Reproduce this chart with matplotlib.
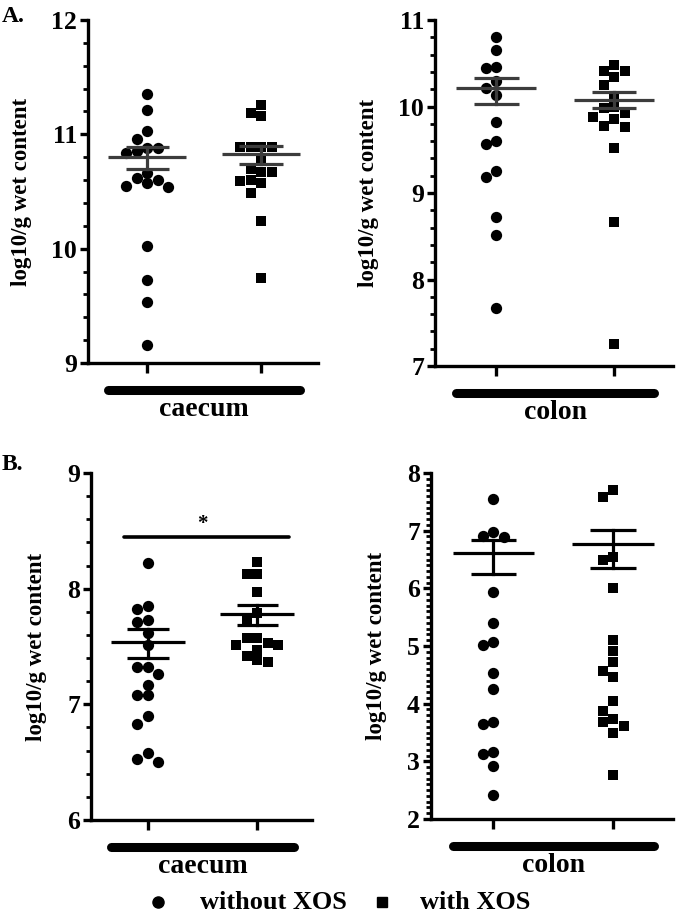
import matplotlib
matplotlib.use("Agg")
import matplotlib.pyplot as plt
import matplotlib.transforms as mtransforms
from matplotlib.lines import Line2D
from matplotlib.ticker import MultipleLocator

# values (log10 / g wet content)
a_caecum_without = [11.35, 11.21, 11.03, 10.96, 10.88, 10.88, 10.85, 10.84, 10.66, 10.62,
                    10.60, 10.57, 10.55, 10.54, 10.02, 9.73, 9.53, 9.16]
a_caecum_with = [11.26, 11.19, 11.16, 10.89, 10.89, 10.89, 10.89, 10.78, 10.70, 10.67,
                 10.67, 10.60, 10.59, 10.57, 10.49, 10.24, 9.74]
a_colon_without = [10.80, 10.65, 10.46, 10.44, 10.29, 10.21, 10.13, 9.82, 9.60, 9.57,
                   9.26, 9.19, 8.72, 8.51, 7.67]
a_colon_with = [10.48, 10.41, 10.41, 10.34, 10.25, 10.12, 9.99, 9.98, 9.92, 9.88,
                9.85, 9.77, 9.76, 9.52, 8.67, 7.26]
b_caecum_without = [8.22, 7.85, 7.82, 7.73, 7.71, 7.62, 7.51, 7.32, 7.32, 7.26,
                    7.17, 7.08, 7.08, 6.90, 6.83, 6.58, 6.53, 6.50]
b_caecum_with = [8.23, 8.13, 8.13, 7.97, 7.79, 7.74, 7.57, 7.57, 7.53, 7.51,
                 7.51, 7.47, 7.42, 7.38, 7.37]
b_colon_without = [7.55, 6.97, 6.91, 6.89, 5.93, 5.40, 5.07, 5.01, 4.54, 4.26,
                   3.68, 3.64, 3.16, 3.13, 2.92, 2.42]
b_colon_with = [7.71, 7.59, 6.55, 6.50, 6.01, 5.11, 4.91, 4.72, 4.57, 4.47,
                4.04, 3.87, 3.73, 3.68, 3.61, 3.49, 2.77]

# mean and SEM bars as drawn: (lower, mean, upper)
a_caecum_stats = [(10.70, 10.80, 10.89), (10.74, 10.83, 10.90)]
a_colon_stats = [(10.03, 10.21, 10.33), (9.98, 10.08, 10.17)]
b_caecum_stats = [(7.40, 7.54, 7.65), (7.69, 7.78, 7.86)]
b_colon_stats = [(6.24, 6.62, 6.83), (6.35, 6.77, 7.02)]

group_labels = ["without XOS", "with XOS"]
W, H = 680, 922
SERIF = ["Liberation Serif", "DejaVu Serif"]

plt.rcParams["font.family"] = SERIF
plt.rcParams["font.weight"] = "bold"

fig = plt.figure(figsize=(W / 100, H / 100), dpi=100)


def px_axes(left, top, right, bottom):
    return fig.add_axes([left / W, 1 - bottom / H, (right - left) / W, (bottom - top) / H])


def swarm(ax, vals, xc, diam_px):
    # simple column based swarm, like GraphPad's scatter plots
    bbox = ax.get_position()
    y0, y1 = ax.get_ylim()
    x0, x1 = ax.get_xlim()
    py = bbox.height * H / (y1 - y0)
    px = bbox.width * W / (x1 - x0)
    step = diam_px / px
    placed = {}
    xs = []
    for v in vals:
        for k in [0, -1, 1, -2, 2, -3, 3, -4, 4]:
            col = placed.setdefault(k, [])
            if all(abs(v - o) * py >= diam_px * 0.95 for o in col):
                col.append(v)
                xs.append(xc + k * step)
                break
    return xs


def panel(ax, ylim, major, minor, data, stats, color_bars, label, sig=None):
    ax.set_xlim(0.48, 2.5)
    ax.set_ylim(*ylim)
    for s in ["top", "right"]:
        ax.spines[s].set_visible(False)
    for s in ["left", "bottom"]:
        ax.spines[s].set_linewidth(2.4)
    ax.yaxis.set_major_locator(MultipleLocator(major))
    ax.yaxis.set_minor_locator(MultipleLocator(minor))
    ax.tick_params(axis="y", which="major", direction="out", length=6, width=2.4,
                   labelsize=18.5, pad=2)
    ax.tick_params(axis="y", which="minor", direction="out", length=3.5, width=2)
    ax.set_xticks([1, 2])
    ax.set_xticklabels([])
    ax.tick_params(axis="x", direction="out", length=7, width=2.4)
    for t in ax.get_yticklabels():
        t.set_fontweight("bold")

    markers = ["o", "s"]
    sizes = [66, 60]
    for i, vals in enumerate(data):
        xs = swarm(ax, vals, i + 1, 10.5)
        ax.scatter(xs, vals, marker=markers[i], s=sizes[i], color="black",
                   linewidths=0, zorder=3, clip_on=False)
        lo, m, hi = stats[i]
        ax.plot([i + 1 - 0.34, i + 1 + 0.34], [m, m], color=color_bars, lw=2.3, zorder=4,
                solid_capstyle="butt")
        ax.plot([i + 1 - 0.19, i + 1 + 0.19], [hi, hi], color=color_bars, lw=2.3, zorder=4,
                solid_capstyle="butt")
        ax.plot([i + 1 - 0.19, i + 1 + 0.19], [lo, lo], color=color_bars, lw=2.3, zorder=4,
                solid_capstyle="butt")
        ax.plot([i + 1, i + 1], [lo, hi], color=color_bars, lw=2.3, zorder=4)

    ax.set_ylabel("log10/g wet content", fontsize=16.5, fontweight="bold", labelpad=14)

    # group bar and name below the axis
    tr = ax.get_xaxis_transform() + mtransforms.ScaledTranslation(0, -0.27, fig.dpi_scale_trans)
    ax.plot([0.66, 2.34], [0, 0], color="black", lw=6.5, solid_capstyle="round",
            transform=tr, clip_on=False)
    tr2 = ax.get_xaxis_transform() + mtransforms.ScaledTranslation(0, -0.46, fig.dpi_scale_trans)
    ax.text(1.5, 0, label, transform=tr2, ha="center", va="center", fontsize=20,
            fontweight="bold")

    if sig is not None:
        ax.plot([0.78, 2.29], [sig, sig], color="black", lw=2.6, solid_capstyle="round")
        ax.text(1.5, sig + 0.02, "*", ha="center", va="bottom", fontsize=15, fontweight="bold")


ax1 = px_axes(88, 20, 318, 363)
panel(ax1, (9, 12), 1, 0.2, [a_caecum_without, a_caecum_with], a_caecum_stats,
      "#3c3c3c", "caecum")
ax2 = px_axes(435, 20, 673, 366)
panel(ax2, (7, 11), 1, 0.2, [a_colon_without, a_colon_with], a_colon_stats,
      "#3c3c3c", "colon")
ax3 = px_axes(91, 473, 312, 820)
panel(ax3, (6, 9), 1, 0.2, [b_caecum_without, b_caecum_with], b_caecum_stats,
      "black", "caecum", sig=8.45)
ax4 = px_axes(431, 473, 673, 819)
panel(ax4, (2, 8), 1, 0.1, [b_colon_without, b_colon_with], b_colon_stats,
      "black", "colon")

fig.text(2 / W, 1 - 16 / H, "A.", fontsize=17, fontweight="bold", va="center", ha="left")
fig.text(2 / W, 1 - 464 / H, "B.", fontsize=17, fontweight="bold", va="center", ha="left")

# legend along the bottom
leg_y = 1 - 902 / H
for mk, ms, mx, tx, lab in [("o", 8, 158, 200, group_labels[0]),
                            ("s", 7, 382, 420, group_labels[1])]:
    fig.add_artist(Line2D([mx / W], [leg_y], marker=mk, markersize=ms, color="black",
                          linestyle="none", transform=fig.transFigure))
    fig.text(tx / W, leg_y, lab, fontsize=19, fontweight="bold", ha="left", va="center")

fig.savefig("out.png", dpi=100)
